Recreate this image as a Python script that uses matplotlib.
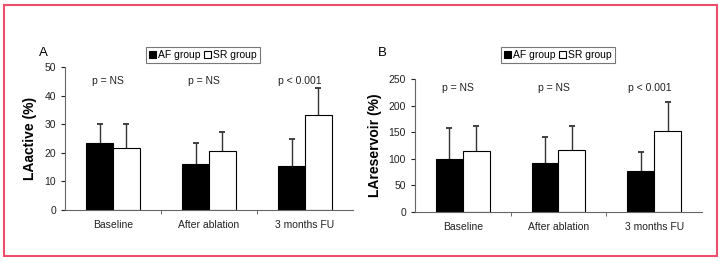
import numpy as np
import matplotlib
matplotlib.use("Agg")
from matplotlib import pyplot as plt
from matplotlib.patches import Rectangle

plt.rcParams['font.family'] = ['Liberation Sans', 'DejaVu Sans']

categories = ["Baseline", "After ablation", "3 months FU"]
p_labels = ["p = NS", "p = NS", "p < 0.001"]

active_af = [23.5, 16.0, 15.3]
active_af_err = [6.5, 7.3, 9.4]
active_sr = [21.7, 20.7, 33.3]
active_sr_err = [8.3, 6.6, 9.4]

reservoir_af = [100, 92, 77]
reservoir_af_err = [57, 49, 36]
reservoir_sr = [115, 117, 152]
reservoir_sr_err = [46, 44, 55]

W, H = 723, 261
fig = plt.figure(figsize=(W / 100, H / 100), dpi=100)

# pink frame
fig.patches.append(Rectangle((4 / W, 1 - 256 / H), 713 / W, 251 / H,
                             transform=fig.transFigure, fill=False,
                             edgecolor="#ee4d6e", linewidth=1.5))


def panel(rect, af, af_err, sr, sr_err, ymax, ystep, ylabel, ptext_y, legend_box):
    ax = fig.add_axes(rect)
    x = np.arange(len(categories))
    bw = 0.28
    ax.bar(x - bw / 2, af, bw, color="black", edgecolor="black", linewidth=0.8,
           label="AF group", zorder=2)
    ax.bar(x + bw / 2, sr, bw, color="white", edgecolor="black", linewidth=0.8,
           label="SR group", zorder=2)
    for xs, v, e in [(x - bw / 2, af, af_err), (x + bw / 2, sr, sr_err)]:
        eb = ax.errorbar(xs, v, yerr=[np.zeros(3), e], fmt="none",
                         ecolor="#333333", elinewidth=1.0, capsize=2.5,
                         capthick=1.3, zorder=1)
        eb[1][0].set_visible(False)  # no lower cap
    for i, t in enumerate(p_labels):
        ax.text(x[i] - 0.05, ptext_y, t, ha="center", va="center", fontsize=7.5,
                color="#222222")
    ax.set_xlim(-0.5, 2.5)
    ax.set_ylim(0, ymax)
    ax.set_yticks(np.arange(0, ymax + 1, ystep))
    ax.set_xticks(x)
    ax.set_xticklabels(categories, fontsize=7.5, color="#222222")
    ax.set_xticks([0.5, 1.5], minor=True)
    ax.tick_params(axis="x", which="major", length=0, pad=7)
    ax.tick_params(axis="x", which="minor", length=3, direction="out", color="#555555")
    ax.tick_params(axis="y", labelsize=7.5, length=3, colors="#222222")
    for s in ["top", "right"]:
        ax.spines[s].set_visible(False)
    for s in ["left", "bottom"]:
        ax.spines[s].set_color("#666666")
        ax.spines[s].set_linewidth(0.8)
    ax.set_ylabel(ylabel, fontsize=10, fontweight="bold", labelpad=5)
    leg = fig.legend(*ax.get_legend_handles_labels(), loc="center",
                     bbox_to_anchor=legend_box, ncol=2, fontsize=7.5,
                     frameon=True, fancybox=False, edgecolor="#555555",
                     handlelength=0.7, handleheight=0.7, handletextpad=0.2,
                     columnspacing=0.3, borderpad=0.3)
    leg.get_frame().set_linewidth(0.8)
    return ax


panel([65 / W, 1 - 210 / H, 288 / W, 143 / H], active_af, active_af_err,
      active_sr, active_sr_err, 50, 10, "LAactive (%)", 45,
      (203 / W, 1 - 55 / H))
panel([415 / W, 1 - 212 / H, 287 / W, 133 / H], reservoir_af, reservoir_af_err,
      reservoir_sr, reservoir_sr_err, 250, 50, "LAreservoir (%)", 233,
      (558 / W, 1 - 55 / H))

fig.text(43 / W, 1 - 53 / H, "A", fontsize=9.5, ha="center", va="center")
fig.text(382 / W, 1 - 53 / H, "B", fontsize=9.5, ha="center", va="center")

fig.savefig("out.png", dpi=100)
